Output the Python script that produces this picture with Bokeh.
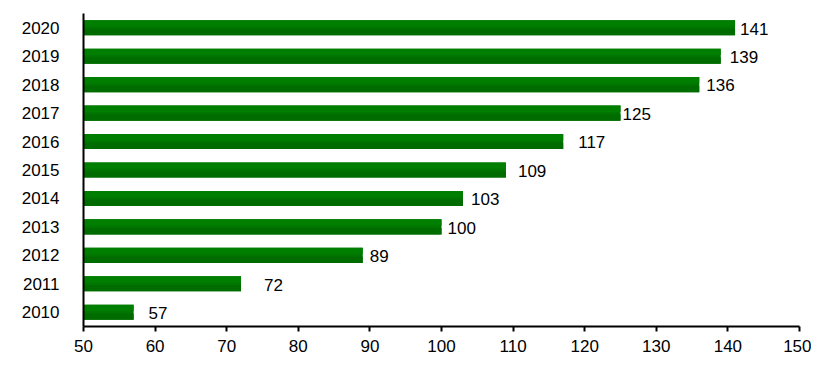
from bokeh.plotting import figure
from bokeh.models import ColumnDataSource, FactorRange, Range1d, FixedTicker
from bokeh.transform import dodge
from bokeh.core.properties import value
from bokeh.embed import file_html
from bokeh.resources import INLINE

years = ["2010", "2011", "2012", "2013", "2014", "2015", "2016", "2017", "2018", "2019", "2020"]
values = [57, 72, 89, 100, 103, 109, 117, 125, 136, 139, 141]
x_ticks = [50, 60, 70, 80, 90, 100, 110, 120, 130, 140, 150]
label_dx = [15, 23, 7, 6, 8, 12, 15, 2, 7, 9, 5]

src = ColumnDataSource(dict(year=years, value=values, label=[str(v) for v in values], dx=label_dx))

p = figure(width=811, height=358, y_range=FactorRange(factors=years, range_padding=0),
           x_range=Range1d(50, 150), output_backend="svg", toolbar_location=None,
           min_border_left=83, min_border_right=12, min_border_top=13, min_border_bottom=32)
p.outline_line_color = None
p.xgrid.grid_line_color = None
p.ygrid.grid_line_color = None

bar_h = 0.53
p.hbar(y="year", left=50, right="value", height=bar_h, source=src,
       fill_color="#007500", line_color=None)
# darker lower part for a subtle gradient look
p.hbar(y=dodge("year", -bar_h / 4 - 0.02, range=p.y_range), left=50, right="value", height=bar_h / 2 - 0.04,
       source=src, fill_color="#006c00", line_color=None)
p.hbar(y=dodge("year", bar_h / 4 + 0.02, range=p.y_range), left=50, right="value", height=bar_h / 2 - 0.04,
       source=src, fill_color="#007e00", line_color=None)

p.text(x="value", y=dodge("year", -0.03, range=p.y_range), text="label", x_offset="dx", source=src,
       text_font=value("Liberation Sans"), text_font_size="17px", text_baseline="middle", text_align="left",
       text_color="#000000")

p.xaxis.ticker = FixedTicker(ticks=x_ticks)
for ax in (p.xaxis[0], p.yaxis[0]):
    ax.axis_line_width = 2
    ax.axis_line_color = "#000000"
    ax.major_label_text_font = "Liberation Sans"
    ax.major_label_text_font_size = "17px"
    ax.major_label_text_color = "#000000"
    ax.minor_tick_line_color = None
p.xaxis.major_tick_line_width = 2
p.xaxis.major_tick_line_color = "#000000"
p.xaxis.major_tick_out = 5
p.xaxis.major_tick_in = 0
p.xaxis.major_label_standoff = 8
p.yaxis.major_tick_line_color = None
p.yaxis.major_label_standoff = 18

open("out.html", "w").write(file_html(p, INLINE))
